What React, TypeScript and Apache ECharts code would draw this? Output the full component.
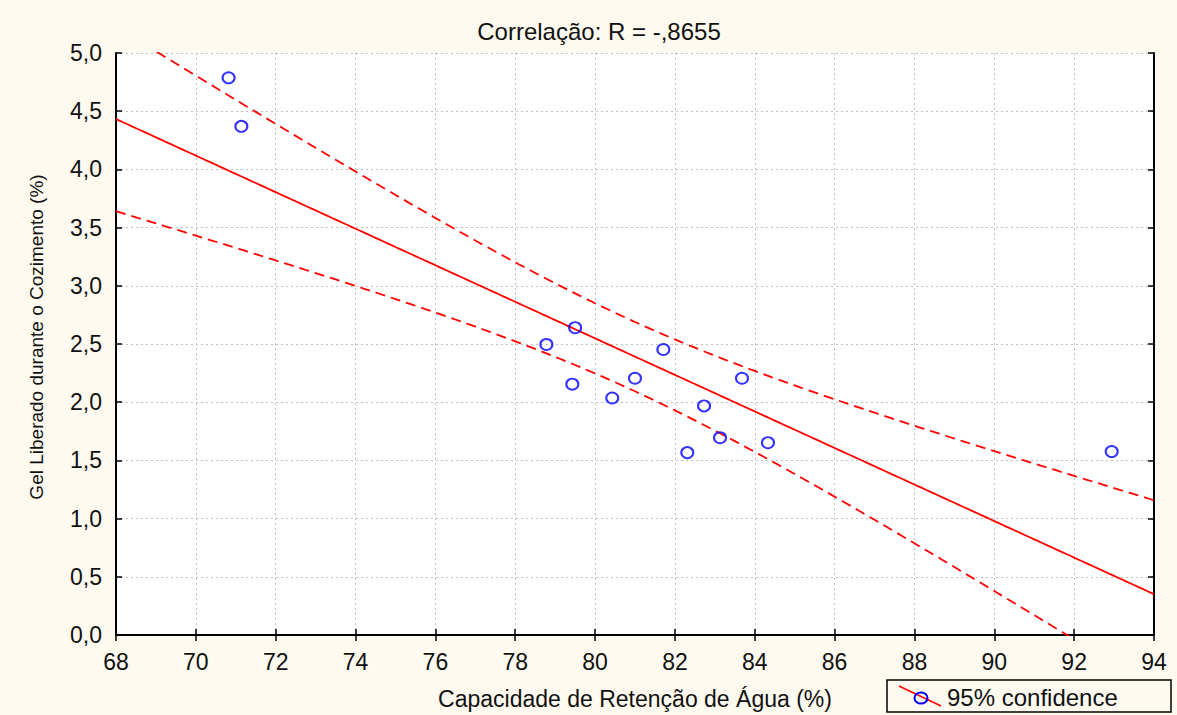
import React, { useEffect, useRef } from "react";
import * as echarts from "echarts";

const xValues = [70.82, 71.14, 78.78, 79.5, 79.43, 80.43, 81.0, 81.71, 82.31, 82.73, 83.13, 83.68, 84.33, 92.94];
const yValues = [4.787, 4.37, 2.496, 2.64, 2.155, 2.036, 2.206, 2.453, 1.567, 1.968, 1.695, 2.206, 1.652, 1.576];
const titleText = "Correlação: R = -,8655";
const xName = "Capacidade de Retenção de Água (%)";
const yName = "Gel Liberado durante o Cozimento (%)";
const legendLabel = "95% confidence";
const tCritical = 2.1788; // t(0.975, df=12)

function regression() {
  const n = xValues.length;
  const mx = xValues.reduce((a, b) => a + b, 0) / n;
  const my = yValues.reduce((a, b) => a + b, 0) / n;
  let sxx = 0, sxy = 0;
  for (let i = 0; i < n; i++) {
    sxx += (xValues[i] - mx) ** 2;
    sxy += (xValues[i] - mx) * (yValues[i] - my);
  }
  const b = sxy / sxx;
  const a = my - b * mx;
  let sse = 0;
  for (let i = 0; i < n; i++) sse += (yValues[i] - (a + b * xValues[i])) ** 2;
  const s = Math.sqrt(sse / (n - 2));
  return { a, b, s, n, mx, sxx };
}

export default function App() {
  const ref = useRef<HTMLDivElement>(null);
  useEffect(() => {
    if (!ref.current) return;
    const chart = echarts.init(ref.current, null, { renderer: "svg" });
    const { a, b, s, n, mx, sxx } = regression();
    const fit: number[][] = [];
    const upper: number[][] = [];
    const lower: number[][] = [];
    for (let i = 0; i <= 260; i++) {
      const x = 68 + i * 0.1;
      const yh = a + b * x;
      const hw = tCritical * s * Math.sqrt(1 / n + (x - mx) ** 2 / sxx);
      fit.push([x, yh]);
      upper.push([x, yh + hw]);
      lower.push([x, yh - hw]);
    }
    const font = "'Liberation Sans', Arial, Helvetica, sans-serif";
    const gridColor = "#c0c0c0";
    const common = {
      axisLine: { show: true, lineStyle: { color: "#000", width: 2 } },
      axisTick: { show: true, inside: true, length: 6, lineStyle: { color: "#000", width: 1.5 } },
    };
    chart.setOption({
      animation: false,
      backgroundColor: "#fefaf0",
      textStyle: { fontFamily: font },
      title: {
        text: titleText,
        left: 594,
        top: 14,
        textAlign: "center",
        textStyle: { fontSize: 24, fontWeight: "normal", color: "#111", fontFamily: font },
      },
      grid: { left: 116, right: 23, top: 53, bottom: 75, backgroundColor: "#fff", show: true, borderWidth: 0 },
      xAxis: [
        {
          type: "value",
          min: 68,
          max: 94,
          interval: 2,
          position: "bottom",
          name: xName,
          nameLocation: "middle",
          nameGap: 52,
          nameTextStyle: { fontSize: 23, color: "#111", fontFamily: font },
          axisLabel: { fontSize: 23, color: "#111", margin: 15, fontFamily: font },
          splitLine: { show: true, lineStyle: { color: gridColor, type: [2, 3], width: 1 } },
          ...common,
        },
        {
          type: "value",
          min: 68,
          max: 94,
          interval: 2,
          position: "top",
          axisLabel: { show: false },
          splitLine: { show: false },
          ...common,
        },
      ],
      yAxis: [
        {
          type: "value",
          min: 0,
          max: 5,
          interval: 0.5,
          position: "left",
          axisLabel: {
            fontSize: 23,
            color: "#111",
            margin: 14,
            fontFamily: font,
            formatter: (v: number) => v.toFixed(1).replace(".", ","),
          },
          splitLine: { show: true, lineStyle: { color: gridColor, type: [2, 3], width: 1 } },
          ...common,
        },
        {
          type: "value",
          min: 0,
          max: 5,
          interval: 0.5,
          position: "right",
          axisLabel: { show: false },
          splitLine: { show: false },
          ...common,
        },
      ],
      series: [
        {
          type: "line",
          data: fit,
          showSymbol: false,
          clip: true,
          lineStyle: { color: "#ff0000", width: 1.8 },
          z: 3,
        },
        {
          type: "line",
          data: upper,
          showSymbol: false,
          clip: true,
          lineStyle: { color: "#ff0000", width: 1.8, type: [10, 6] },
          z: 3,
        },
        {
          type: "line",
          data: lower,
          showSymbol: false,
          clip: true,
          lineStyle: { color: "#ff0000", width: 1.8, type: [10, 6] },
          z: 3,
        },
        {
          type: "scatter",
          data: xValues.map((x, i) => [x, yValues[i]]),
          symbol: "circle",
          symbolSize: [12, 11],
          itemStyle: { color: "transparent", borderColor: "#0000ff", borderWidth: 2 },
          z: 4,
        },
      ],
      graphic: [
        {
          type: "text",
          x: 36,
          y: 337,
          rotation: Math.PI / 2,
          style: { text: yName, fontSize: 19, fill: "#111", fontFamily: font, align: "center", verticalAlign: "middle" },
        },
        {
          type: "group",
          x: 887,
          y: 680,
          children: [
            { type: "rect", shape: { x: 0, y: 0, width: 284, height: 32 }, style: { fill: "#fefaf0", stroke: "#000", lineWidth: 1.5 } },
            { type: "line", shape: { x1: 12, y1: 6, x2: 54, y2: 26 }, style: { stroke: "#ff0000", lineWidth: 1.5 } },
            { type: "ellipse", shape: { cx: 34, cy: 18, rx: 6.5, ry: 5.5 }, style: { fill: "transparent", stroke: "#0000ff", lineWidth: 2 } },
            { type: "text", x: 60, y: 17, style: { text: legendLabel, fontSize: 24, fill: "#111", fontFamily: font, verticalAlign: "middle" } },
          ],
        },
      ],
    });
    return () => chart.dispose();
  }, []);
  return (
    <div
      ref={ref}
      style={{ position: "fixed", left: 0, top: 0, width: 1177, height: 715 }}
    />
  );
}
